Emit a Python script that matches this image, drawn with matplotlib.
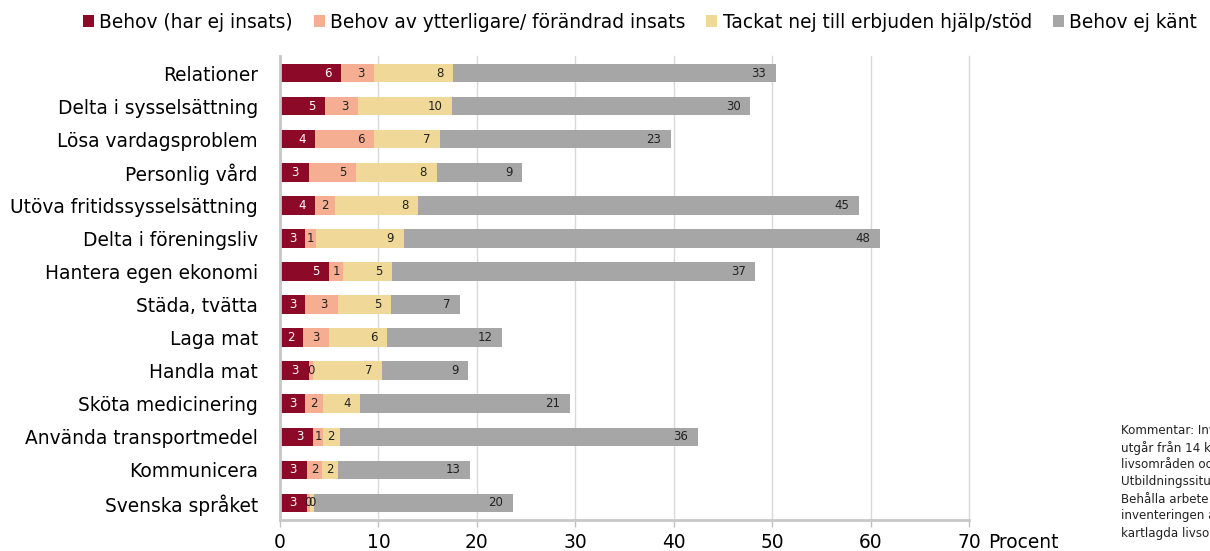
import matplotlib
matplotlib.use("Agg")
import matplotlib.pyplot as plt
from matplotlib.patches import Patch

categories = ["Relationer", "Delta i sysselsättning", "Lösa vardagsproblem", "Personlig vård",
              "Utöva fritidssysselsättning", "Delta i föreningsliv", "Hantera egen ekonomi",
              "Städa, tvätta", "Laga mat", "Handla mat", "Sköta medicinering",
              "Använda transportmedel", "Kommunicera", "Svenska språket"]
series_names = ["Behov (har ej insats)", "Behov av ytterligare/ förändrad insats",
                "Tackat nej till erbjuden hjälp/stöd", "Behov ej känt"]
behov = [6.2, 4.6, 3.6, 2.9, 3.6, 2.55, 5.0, 2.55, 2.3, 2.9, 2.55, 3.4, 2.7, 2.7]
ytterligare = [3.4, 3.3, 6.0, 4.8, 2.0, 1.1, 1.4, 3.3, 2.7, 0.45, 1.8, 0.95, 1.6, 0.3]
tackat = [8.0, 9.6, 6.7, 8.2, 8.4, 8.9, 5.0, 5.4, 5.9, 7.0, 3.8, 1.7, 1.6, 0.45]
ej_kant = [32.8, 30.3, 23.4, 8.7, 44.8, 48.4, 36.9, 7.0, 11.7, 8.8, 21.3, 36.4, 13.4, 20.2]
xticks = [0, 10, 20, 30, 40, 50, 60, 70]

colors = ["#8C0A28", "#F6AE92", "#EFD898", "#A6A6A6"]
label_colors = ["white", "#222222", "#222222", "#222222"]

fig = plt.figure(figsize=(12.1, 5.51), dpi=100)
ax = fig.add_axes([280/1210, 1-519.5/551, (969-280)/1210, (519.5-56.5)/551])

series = [behov, ytterligare, tackat, ej_kant]
y = list(range(len(categories)))
left = [0.0]*len(categories)
px_per_unit = (969-280)/70.0
for s, vals in enumerate(series):
    ax.barh(y, vals, left=left, height=0.56, color=colors[s], edgecolor="none", zorder=3)
    for i, v in enumerate(vals):
        start = left[i]
        end = start + v
        txt = str(int(v + 0.5))
        nch = len(txt)
        # label near inside end, centred if the segment is too narrow
        c_end = end - (9.5 + nch*7.6/2)/px_per_unit
        mid = (start+end)/2
        xc = max(c_end, mid)
        ax.text(xc, i, txt, ha="center", va="center", fontsize=8.5,
                color=label_colors[s], zorder=5)
    left = [l+v for l, v in zip(left, vals)]

ax.set_xlim(0, 70)
ax.set_ylim(len(categories)-0.5, -0.5)
ax.set_yticks(y)
ax.set_yticklabels(categories, fontsize=13.4)
ax.set_xticks(xticks)
ax.set_xticklabels([str(t) for t in xticks], fontsize=13.4)
ax.tick_params(axis="y", length=0, pad=16)
ax.tick_params(axis="x", length=5, width=1, color="#BFBFBF", pad=4.5)
for t in xticks[1:]:
    ax.axvline(t, color="#D9D9D9", linewidth=1, zorder=0, clip_on=False)
for sp in ["top", "right"]:
    ax.spines[sp].set_visible(False)
ax.spines["left"].set_color("#C8C8C8")
ax.spines["left"].set_linewidth(2)
ax.spines["bottom"].set_color("#C8C8C8")
ax.spines["bottom"].set_linewidth(2)
ax.spines["left"].set_zorder(4)

fig.text(988/1210, 1-543/551, "Procent", fontsize=13.4, va="center", ha="left")

handles = [Patch(facecolor=c, edgecolor="none") for c in colors]
fig.legend(handles, series_names, loc="center", bbox_to_anchor=(640/1210, 1-22/551),
           ncol=4, frameon=False, fontsize=13.4, handlelength=0.6, handleheight=0.6,
           handletextpad=0.3, columnspacing=1.1, borderpad=0.1)

comment = ("Kommentar: Inventeringen\nutgår från 14 kartlagda\nlivsområden och\n"
           "Utbildningssituation\nBehålla arbete ingår ej i\ninventeringen av de\nkartlagda livsområdena")
fig.text(1121/1210, 1-424/551, comment, fontsize=8.6, va="top", ha="left",
         linespacing=1.35, color="#222222")

fig.savefig("out.png", dpi=100)
